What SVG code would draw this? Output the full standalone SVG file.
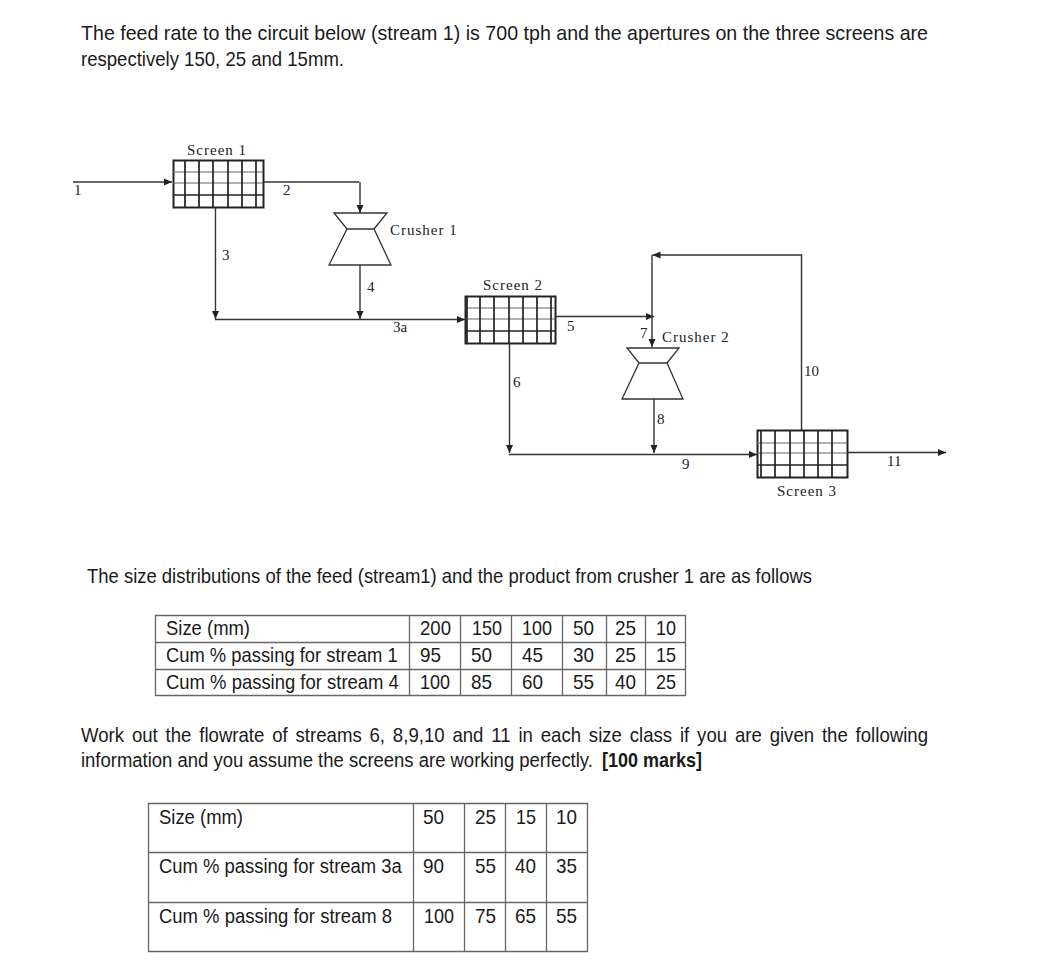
<svg xmlns="http://www.w3.org/2000/svg" width="1046" height="977" viewBox="0 0 1046 977">
<style>
.t{font-family:"Liberation Sans",Arial,sans-serif;font-size:21px;fill:#1a1a1a}
.b{font-weight:bold}
.s{font-family:"Liberation Serif","Times New Roman",serif;font-size:15px;fill:#222}
.n{letter-spacing:1px}
.g{fill:#fff;stroke:#222;stroke-width:2}
.gl{fill:none;stroke:#222;stroke-width:1.7}
.gm{fill:none;stroke:#666;stroke-width:1.2}
.c{fill:#fff;stroke:#333;stroke-width:1.3}
.l{fill:none;stroke:#333;stroke-width:1.4}
.tb{fill:none;stroke:#666;stroke-width:1.3}
</style>
<defs>
<marker id="a" markerUnits="userSpaceOnUse" markerWidth="9" markerHeight="8" refX="8" refY="4" orient="auto"><path d="M0 0.5L8 4L0 7.5Z" fill="#222"/></marker>
</defs>
<rect width="1046" height="977" fill="#fff"/>
<g id="intro">
<text class="t" x="81" y="40" textLength="847" lengthAdjust="spacingAndGlyphs">The feed rate to the circuit below (stream 1) is 700 tph and the apertures on the three screens are</text>
<text class="t" x="81" y="66" textLength="263" lengthAdjust="spacingAndGlyphs">respectively 150, 25 and 15mm.</text>
</g>
<g id="connectors">
<path class="l" d="M73 182H172" marker-end="url(#a)"/>
<path class="l" d="M262 182H359"/>
<path class="l" d="M360 182V213" marker-end="url(#a)"/>
<path class="l" d="M215.500 207V319" marker-end="url(#a)"/>
<path class="l" d="M360 264V319" marker-end="url(#a)"/>
<path class="l" d="M215 319.500H465" marker-end="url(#a)"/>
<path class="l" d="M555 316.500H654" marker-end="url(#a)"/>
<path class="l" d="M652 316V347" marker-end="url(#a)"/>
<path class="l" d="M652 316V255"/>
<path class="l" d="M801.500 430V255H652.500" marker-end="url(#a)"/>
<path class="l" d="M654 399V453" marker-end="url(#a)"/>
<path class="l" d="M509.500 343V453" marker-end="url(#a)"/>
<path class="l" d="M509 454.500H757" marker-end="url(#a)"/>
<path class="l" d="M847 452.500H946" marker-end="url(#a)"/>
<text class="s" x="74" y="195">1</text>
<text class="s" x="283" y="195">2</text>
<text class="s" x="222" y="260">3</text>
<text class="s" x="367" y="292">4</text>
<text class="s" x="393" y="332">3a</text>
<text class="s" x="567" y="331">5</text>
<text class="s" x="513" y="387">6</text>
<text class="s" x="640" y="338">7</text>
<text class="s" x="657" y="424">8</text>
<text class="s" x="682" y="469">9</text>
<text class="s" x="804" y="376">10</text>
<text class="s" x="887" y="466">11</text>
</g>
<g id="screen1">
<rect class="g" x="173.500" y="160.500" width="90" height="47"/>
<path class="gm" d="M173 172H263M173 183H263"/>
<path class="gl" d="M185 160V207M199 160V207M213 160V207M228 160V207M242 160V207M256 160V207M173 195H263"/>
<text class="s n" x="187" y="155">Screen 1</text>
</g>
<g id="crusher1">
<path class="c" d="M334 213H387L374 229H347ZM347 229H374L391 265H329Z"/>
<text class="s n" x="390" y="235">Crusher 1</text>
</g>
<g id="screen2">
<rect class="g" x="465.500" y="296.500" width="90" height="47"/>
<path class="gm" d="M465 308H555M465 319H555"/>
<path class="gl" d="M467 296V343M480 296V343M494 296V343M509 296V343M523 296V343M537 296V343M551 296V343M465 331H555"/>
<text class="s n" x="483" y="290">Screen 2</text>
</g>
<g id="crusher2">
<path class="c" d="M627 348H679L667 363H639ZM639 363H667L683 399H622Z"/>
<text class="s n" x="662" y="342">Crusher 2</text>
</g>
<g id="screen3">
<rect class="g" x="757.500" y="430.500" width="90" height="47"/>
<path class="gm" d="M757 443H847M757 453H847"/>
<path class="gl" d="M761 430V477M775 430V477M790 430V477M804 430V477M818 430V477M832 430V477M757 465H847"/>
<text class="s n" x="777" y="496">Screen 3</text>
</g>
<g id="text-mid">
<text class="t" x="87" y="583" textLength="725" lengthAdjust="spacingAndGlyphs">The size distributions of the feed (stream1) and the product from crusher 1 are as follows</text>
</g>
<g id="table1">
<path class="tb" d="M155.500 615.500H685.500V695.500H155.500ZM155.500 642.500H685.500M155.500 669.500H685.500M409.500 615.500V695.500M460.500 615.500V695.500M511.500 615.500V695.500M562.500 615.500V695.500M606.500 615.500V695.500M645.500 615.500V695.500"/>
<text class="t" x="166" y="635" textLength="84" lengthAdjust="spacingAndGlyphs">Size (mm)</text>
<text class="t" transform="translate(166 662) scale(.875 1)">Cum % passing for stream 1</text>
<text class="t" transform="translate(166 689) scale(.879 1)">Cum % passing for stream 4</text>
<text class="t" x="420" y="635" textLength="31" lengthAdjust="spacingAndGlyphs">200</text>
<text class="t" x="472" y="635" textLength="30" lengthAdjust="spacingAndGlyphs">150</text>
<text class="t" x="522" y="635" textLength="30" lengthAdjust="spacingAndGlyphs">100</text>
<text class="t" x="573" y="635" textLength="21" lengthAdjust="spacingAndGlyphs">50</text>
<text class="t" x="615" y="635" textLength="21" lengthAdjust="spacingAndGlyphs">25</text>
<text class="t" x="656" y="635" textLength="20" lengthAdjust="spacingAndGlyphs">10</text>
<text class="t" x="420" y="662" textLength="21" lengthAdjust="spacingAndGlyphs">95</text>
<text class="t" x="471" y="662" textLength="21" lengthAdjust="spacingAndGlyphs">50</text>
<text class="t" x="522" y="662" textLength="21" lengthAdjust="spacingAndGlyphs">45</text>
<text class="t" x="573" y="662" textLength="21" lengthAdjust="spacingAndGlyphs">30</text>
<text class="t" x="615" y="662" textLength="21" lengthAdjust="spacingAndGlyphs">25</text>
<text class="t" x="656" y="662" textLength="20" lengthAdjust="spacingAndGlyphs">15</text>
<text class="t" x="420" y="689" textLength="30" lengthAdjust="spacingAndGlyphs">100</text>
<text class="t" x="471" y="689" textLength="21" lengthAdjust="spacingAndGlyphs">85</text>
<text class="t" x="522" y="689" textLength="21" lengthAdjust="spacingAndGlyphs">60</text>
<text class="t" x="573" y="689" textLength="21" lengthAdjust="spacingAndGlyphs">55</text>
<text class="t" x="615" y="689" textLength="21" lengthAdjust="spacingAndGlyphs">40</text>
<text class="t" x="656" y="689" textLength="20" lengthAdjust="spacingAndGlyphs">25</text>
</g>
<g id="text-work">
<text class="t" x="81" y="742" textLength="847" lengthAdjust="spacingAndGlyphs" word-spacing="3">Work out the flowrate of streams 6, 8,9,10 and 11 in each size class if you are given the following</text>
<text class="t" transform="translate(81 767) scale(.88 1)">information and you assume the screens are working perfectly.</text>
<text class="t b" transform="translate(602 767) scale(.857 1)">[100 marks]</text>
</g>
<g id="table2">
<path class="tb" d="M148.500 803.500H587.500V951.500H148.500ZM148.500 852.500H587.500M148.500 902.500H587.500M413.500 803.500V951.500M464.500 803.500V951.500M505.500 803.500V951.500M546.500 803.500V951.500"/>
<text class="t" x="159" y="824" textLength="84" lengthAdjust="spacingAndGlyphs">Size (mm)</text>
<text class="t" transform="translate(159 873) scale(.8785 1)">Cum % passing for stream 3a</text>
<text class="t" x="159" y="923" textLength="233" lengthAdjust="spacingAndGlyphs">Cum % passing for stream 8</text>
<text class="t" x="423" y="824" textLength="21" lengthAdjust="spacingAndGlyphs">50</text>
<text class="t" x="475" y="824" textLength="21" lengthAdjust="spacingAndGlyphs">25</text>
<text class="t" x="516" y="824" textLength="20" lengthAdjust="spacingAndGlyphs">15</text>
<text class="t" x="556" y="824" textLength="21" lengthAdjust="spacingAndGlyphs">10</text>
<text class="t" x="423" y="873" textLength="21" lengthAdjust="spacingAndGlyphs">90</text>
<text class="t" x="475" y="873" textLength="21" lengthAdjust="spacingAndGlyphs">55</text>
<text class="t" x="515" y="873" textLength="21" lengthAdjust="spacingAndGlyphs">40</text>
<text class="t" x="556" y="873" textLength="21" lengthAdjust="spacingAndGlyphs">35</text>
<text class="t" x="424" y="923" textLength="30" lengthAdjust="spacingAndGlyphs">100</text>
<text class="t" x="475" y="923" textLength="21" lengthAdjust="spacingAndGlyphs">75</text>
<text class="t" x="515" y="923" textLength="21" lengthAdjust="spacingAndGlyphs">65</text>
<text class="t" x="556" y="923" textLength="21" lengthAdjust="spacingAndGlyphs">55</text>
</g>
</svg>
